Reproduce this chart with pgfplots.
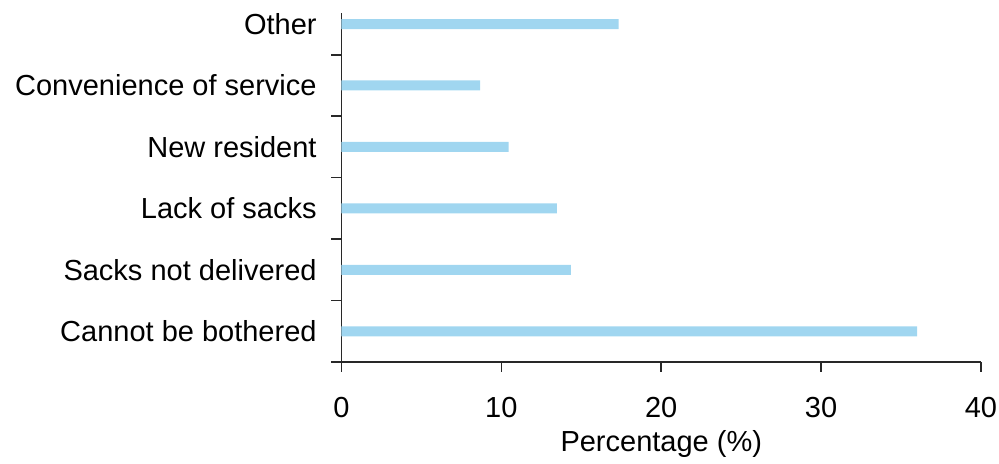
\documentclass[border=0pt]{standalone}
\usepackage{fontspec}
\setmainfont{Liberation Sans}
\usepackage{pgfplots}
\pgfplotsset{compat=1.18}
\definecolor{barblue}{RGB}{160,214,240}
\definecolor{axisgray}{RGB}{40,40,40}
\begin{document}
\begin{tikzpicture}
\useasboundingbox (-170.75pt,-51pt) rectangle (328.75pt,181pt);
\begin{axis}[
  at={(0,0)}, anchor=south west, scale only axis,
  width=319.75pt, height=174.5pt,
  xbar, bar width=5pt, bar shift=0pt,
  xmin=0, xmax=40, ymin=-0.5, ymax=5.18,
  axis lines*=left,
  axis line style={line width=0.8pt, axisgray},
  tick style={line width=0.8pt, axisgray},
  major tick length=5pt, tick align=outside,
  xtick={0,10,20,30,40},
  ytick={-0.5,0.5,1.5,2.5,3.5,4.5},
  yticklabels={},
  extra y ticks={0,1,2,3,4,5},
  extra y tick labels={Cannot be bothered, Sacks not delivered, Lack of sacks, New resident, Convenience of service, Other},
  extra y tick style={major tick length=0pt, yticklabel style={anchor=east, inner sep=0pt, xshift=-12.25pt}},
  /pgf/number format/assume math mode=true,
  tick label style={font=\fontsize{14.5pt}{17pt}\selectfont},
  xticklabel style={anchor=north, inner sep=0pt, yshift=-12.3pt},
  xlabel={Percentage (\%)},
  xlabel style={font=\fontsize{14.5pt}{17pt}\selectfont, at={(axis description cs:0.5,0)}, anchor=base, yshift=-44.5pt},
]
\addplot[fill=barblue, draw=none] coordinates {
  (36.0,0) (14.35,1) (13.47,2) (10.45,3) (8.67,4) (17.33,5)
};
\end{axis}
\end{tikzpicture}
\end{document}
